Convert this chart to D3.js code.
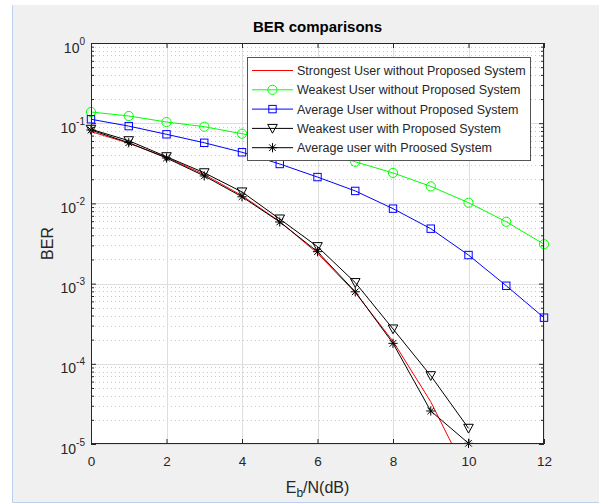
<!DOCTYPE html>
<html>
<head>
<meta charset="utf-8">
<script src="https://cdn.jsdelivr.net/npm/d3@7/dist/d3.min.js"></script>
<style>
  html, body { margin: 0; padding: 0; background: #ffffff; }
  svg { display: block; font-family: "Liberation Sans", Arial, Helvetica, sans-serif; }
</style>
</head>
<body>
<svg id="chart" width="599" height="504"></svg>
<script>
// ---- data ----
const ebn0 = [0, 1, 2, 3, 4, 5, 6, 7, 8, 9, 10, 11, 12];
const strongestWithout = [0.0786, 0.0563, 0.0375, 0.0229, 0.0125, 0.00595, 0.00239, 0.000773, 0.000191, 0.0000336, 0.00000387];
const weakestWithout = [0.138, 0.123, 0.1035, 0.0904, 0.074, 0.059, 0.047, 0.033, 0.024, 0.0163, 0.0102, 0.0059, 0.0031];
const averageWithout = [0.112, 0.092, 0.0727, 0.057, 0.0434, 0.031, 0.0213, 0.0143, 0.0086, 0.00484, 0.00227, 0.00094, 0.000376];
const weakestWith = [0.084, 0.0605, 0.0382, 0.0241, 0.0139, 0.00639, 0.00289, 0.00103, 0.000272, 0.0000711, 0.0000157];
const averageWith = [0.0822, 0.0571, 0.0368, 0.022, 0.0121, 0.00586, 0.0025, 0.00079, 0.00018, 0.0000258, 0.0000102];
const seriesNames = [
  "Strongest User without Proposed System",
  "Weakest User without Proposed System",
  "Average User without Proposed System",
  "Weakest user with Proposed System",
  "Average user with Proosed System"
];
const xTicks = [0, 2, 4, 6, 8, 10, 12];
const yExponents = [-5, -4, -3, -2, -1, 0];
const titleText = "BER comparisons";
const yLabelText = "BER";

// ---- layout ----
const W = 599, H = 504;
const L = 91, R = 544, T = 43, B = 444;
const svg = d3.select("#chart");

// figure background
svg.append("rect").attr("x", 0).attr("y", 0).attr("width", W).attr("height", H).attr("fill", "#ffffff");
svg.append("rect").attr("x", 13).attr("y", 5).attr("width", W - 13).attr("height", 497).attr("fill", "#f0f0f0");
svg.append("line").attr("x1", 12.5).attr("x2", 12.5).attr("y1", 5).attr("y2", 502.5).attr("stroke", "#b9d1ea").attr("stroke-width", 1);
svg.append("line").attr("x1", 12.5).attr("x2", W).attr("y1", 502.5).attr("y2", 502.5).attr("stroke", "#b9d1ea").attr("stroke-width", 1);

const x = d3.scaleLinear().domain([0, 12]).range([L, R]);
const y = d3.scaleLog().domain([1e-5, 1]).range([B, T]);

const yMajor = yExponents.map(e => Math.pow(10, e));
const yMinor = [];
yExponents.slice(0, -1).forEach(e => { for (let m = 2; m <= 9; m++) yMinor.push(m * Math.pow(10, e)); });

// plot area
svg.append("rect").attr("x", L).attr("y", T).attr("width", R - L).attr("height", B - T).attr("fill", "#ffffff");

// grids
const grid = svg.append("g");
grid.selectAll(".minor").data(yMinor).join("line")
  .attr("x1", L).attr("x2", R)
  .attr("y1", d => Math.round(y(d)) + 0.5).attr("y2", d => Math.round(y(d)) + 0.5)
  .attr("stroke", "#cacaca").attr("stroke-width", 1).attr("stroke-dasharray", "1,3");
grid.selectAll(".ymaj").data(yMajor).join("line")
  .attr("x1", L).attr("x2", R)
  .attr("y1", d => Math.round(y(d)) + 0.5).attr("y2", d => Math.round(y(d)) + 0.5)
  .attr("stroke", "#dedede").attr("stroke-width", 1);
grid.selectAll(".xmaj").data(xTicks).join("line")
  .attr("y1", T).attr("y2", B)
  .attr("x1", d => Math.round(x(d)) + 0.5).attr("x2", d => Math.round(x(d)) + 0.5)
  .attr("stroke", "#dedede").attr("stroke-width", 1);

// clip
svg.append("clipPath").attr("id", "clip").append("rect")
  .attr("x", L).attr("y", T).attr("width", R - L).attr("height", B - T);

const series = [
  { name: seriesNames[0], vals: strongestWithout, color: "#ff0000", marker: "none" },
  { name: seriesNames[1], vals: weakestWithout, color: "#00ff00", marker: "circle" },
  { name: seriesNames[2], vals: averageWithout, color: "#0000ff", marker: "square" },
  { name: seriesNames[3], vals: weakestWith, color: "#000000", marker: "triangle" },
  { name: seriesNames[4], vals: averageWith, color: "#000000", marker: "star" }
];

const line = d3.line().x(d => x(d[0])).y(d => y(d[1]));

function drawMarker(g, type, cx, cy, color) {
  if (type === "circle") {
    g.append("circle").attr("cx", cx).attr("cy", cy).attr("r", 4.6)
      .attr("fill", "none").attr("stroke", color).attr("stroke-width", 1);
  } else if (type === "square") {
    g.append("rect").attr("x", cx - 3.7).attr("y", cy - 3.7).attr("width", 7.4).attr("height", 7.4)
      .attr("fill", "none").attr("stroke", color).attr("stroke-width", 1);
  } else if (type === "triangle") {
    g.append("path").attr("d", `M${cx - 4.8},${cy - 4} L${cx + 4.8},${cy - 4} L${cx},${cy + 4.8} Z`)
      .attr("fill", "none").attr("stroke", color).attr("stroke-width", 1);
  } else if (type === "star") {
    const s = 4.6, d = 3.3;
    g.append("path").attr("d",
      `M${cx - s},${cy} L${cx + s},${cy} M${cx},${cy - s} L${cx},${cy + s} M${cx - d},${cy - d} L${cx + d},${cy + d} M${cx - d},${cy + d} L${cx + d},${cy - d}`)
      .attr("fill", "none").attr("stroke", color).attr("stroke-width", 1);
  }
}

series.forEach(s => {
  const pts = s.vals.map((v, i) => [ebn0[i], v]);
  const g = svg.append("g");
  g.append("path").attr("d", line(pts)).attr("fill", "none")
    .attr("stroke", s.color).attr("stroke-width", 1).attr("clip-path", "url(#clip)");
  if (s.marker !== "none") {
    pts.filter(p => p[1] >= 1e-5 && p[1] <= 1).forEach(p => drawMarker(g, s.marker, x(p[0]), y(p[1]), s.color));
  }
});

// axes box
const axisColor = "#262626";
svg.append("rect").attr("x", L + 0.5).attr("y", T + 0.5).attr("width", R - L - 1).attr("height", B - T - 1)
  .attr("fill", "none").attr("stroke", axisColor).attr("stroke-width", 1);

// x axis (bottom, inward ticks)
const xAxis = svg.append("g").attr("transform", `translate(0,${B})`)
  .call(d3.axisBottom(x).tickValues(xTicks).tickSizeInner(-5).tickSizeOuter(0).tickPadding(19).tickFormat(d3.format("d")));
xAxis.select(".domain").remove();
xAxis.selectAll(".tick line").attr("stroke", axisColor);
xAxis.selectAll(".tick text").attr("fill", axisColor).style("font-size", "13.5px")
  .style("font-family", "'Liberation Sans', Arial, sans-serif").attr("dy", "0.2em");

// x axis top ticks
const xTop = svg.append("g").attr("transform", `translate(0,${T})`)
  .call(d3.axisTop(x).tickValues(xTicks).tickSizeInner(-5).tickSizeOuter(0).tickFormat(""));
xTop.select(".domain").remove();
xTop.selectAll(".tick line").attr("stroke", axisColor);

// y axis left (major with labels)
const yAxis = svg.append("g").attr("transform", `translate(${L},0)`)
  .call(d3.axisLeft(y).tickValues(yMajor).tickSizeInner(-5).tickSizeOuter(0).tickPadding(6));
yAxis.select(".domain").remove();
yAxis.selectAll(".tick line").attr("stroke", axisColor);
yAxis.selectAll(".tick text").each(function (d) {
  const t = d3.select(this);
  const e = Math.round(Math.log10(d));
  t.text(null).attr("fill", axisColor).attr("dy", null).attr("y", 9)
    .style("font-family", "'Liberation Sans', Arial, sans-serif");
  t.append("tspan").style("font-size", "14px").text("10");
  t.append("tspan").style("font-size", "10px").attr("dy", -8).text(String(e));
});

// y minor ticks left
const yMinL = svg.append("g").attr("transform", `translate(${L},0)`)
  .call(d3.axisLeft(y).tickValues(yMinor).tickSizeInner(-3).tickSizeOuter(0).tickFormat(""));
yMinL.select(".domain").remove();
yMinL.selectAll(".tick line").attr("stroke", axisColor);

// y ticks right
const yRight = svg.append("g").attr("transform", `translate(${R},0)`)
  .call(d3.axisRight(y).tickValues(yMajor).tickSizeInner(-5).tickSizeOuter(0).tickFormat(""));
yRight.select(".domain").remove();
yRight.selectAll(".tick line").attr("stroke", axisColor);
const yMinR = svg.append("g").attr("transform", `translate(${R},0)`)
  .call(d3.axisRight(y).tickValues(yMinor).tickSizeInner(-3).tickSizeOuter(0).tickFormat(""));
yMinR.select(".domain").remove();
yMinR.selectAll(".tick line").attr("stroke", axisColor);

// title
svg.append("text").attr("x", (L + R) / 2).attr("y", 32).attr("text-anchor", "middle")
  .attr("fill", "#000").style("font-size", "15px").style("font-weight", "bold").text(titleText);

// x label
const xl = svg.append("text").attr("x", (L + R) / 2).attr("y", 493).attr("text-anchor", "middle")
  .attr("fill", axisColor).style("font-size", "16px");
xl.append("tspan").text("E");
xl.append("tspan").attr("dy", 4).style("font-size", "12px").text("b");
xl.append("tspan").attr("dy", -4).text("/N(dB)");

// y label
svg.append("text").attr("transform", `translate(53,${(T + B) / 2}) rotate(-90)`)
  .attr("text-anchor", "middle").attr("fill", axisColor).style("font-size", "16px").text(yLabelText);

// legend
const lg = svg.append("g");
const lx = 247, ly = 57, lw = 283, lh = 103;
lg.append("rect").attr("x", lx + 0.5).attr("y", ly + 0.5).attr("width", lw).attr("height", lh)
  .attr("fill", "#ffffff").attr("stroke", "#555555").attr("stroke-width", 1);
series.forEach((s, i) => {
  const yy = 70.5 + i * 19.3;
  lg.append("line").attr("x1", 252).attr("x2", 293).attr("y1", yy).attr("y2", yy)
    .attr("stroke", s.color).attr("stroke-width", 1);
  if (s.marker !== "none") drawMarker(lg, s.marker, 272.5, yy, s.color);
  lg.append("text").attr("x", 297).attr("y", yy + 4.5).attr("fill", axisColor)
    .style("font-size", "12.5px").text(s.name);
});
</script>
</body>
</html>
